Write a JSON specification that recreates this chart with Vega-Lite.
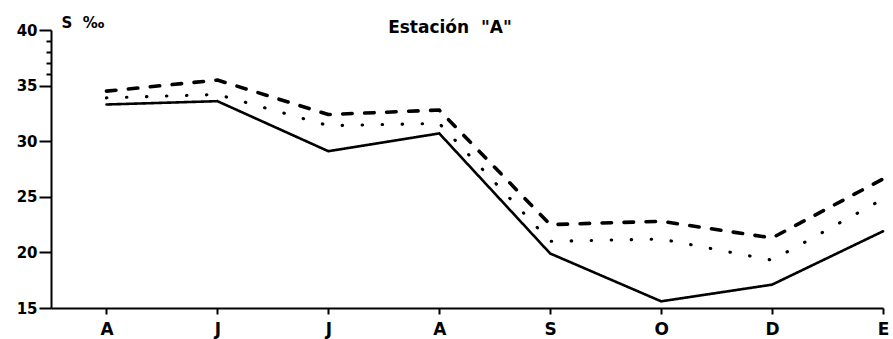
{
  "$schema": "https://vega.github.io/schema/vega-lite/v6.json",
  "autosize": "none",
  "width": 832,
  "height": 278,
  "padding": {"left": 51, "top": 30, "right": 10, "bottom": 31},
  "background": "white",
  "title": {
    "text": "Estación\u00a0\u00a0\"A\"",
    "font": "DejaVu Sans",
    "fontWeight": "bold",
    "fontSize": 17,
    "color": "black",
    "anchor": "middle",
    "dx": -17,
    "dy": 18,
    "offset": -4
  },
  "config": {
    "view": {"stroke": null},
    "axis": {
      "grid": false,
      "domainColor": "black",
      "domainWidth": 2,
      "tickColor": "black",
      "tickWidth": 2,
      "labelColor": "black",
      "labelFont": "DejaVu Sans",
      "labelFontWeight": "bold"
    }
  },
  "data": {
    "values": [
      {"mes": 1, "serie": "continua", "salinidad": 33.3},
      {"mes": 2, "serie": "continua", "salinidad": 33.6},
      {"mes": 3, "serie": "continua", "salinidad": 29.1},
      {"mes": 4, "serie": "continua", "salinidad": 30.7},
      {"mes": 5, "serie": "continua", "salinidad": 19.9},
      {"mes": 6, "serie": "continua", "salinidad": 15.6},
      {"mes": 7, "serie": "continua", "salinidad": 17.1},
      {"mes": 8, "serie": "continua", "salinidad": 21.9},
      {"mes": 1, "serie": "puntos", "salinidad": 33.9},
      {"mes": 2, "serie": "puntos", "salinidad": 34.2},
      {"mes": 3, "serie": "puntos", "salinidad": 31.4},
      {"mes": 4, "serie": "puntos", "salinidad": 31.6},
      {"mes": 5, "serie": "puntos", "salinidad": 21.0},
      {"mes": 6, "serie": "puntos", "salinidad": 21.2},
      {"mes": 7, "serie": "puntos", "salinidad": 19.3},
      {"mes": 8, "serie": "puntos", "salinidad": 24.8},
      {"mes": 1, "serie": "trazos", "salinidad": 34.5},
      {"mes": 2, "serie": "trazos", "salinidad": 35.5},
      {"mes": 3, "serie": "trazos", "salinidad": 32.4},
      {"mes": 4, "serie": "trazos", "salinidad": 32.8},
      {"mes": 5, "serie": "trazos", "salinidad": 22.5},
      {"mes": 6, "serie": "trazos", "salinidad": 22.8},
      {"mes": 7, "serie": "trazos", "salinidad": 21.3},
      {"mes": 8, "serie": "trazos", "salinidad": 26.6}
    ]
  },
  "mark": {"type": "line", "color": "black", "strokeCap": "round", "strokeJoin": "round"},
  "encoding": {
    "x": {
      "field": "mes",
      "type": "quantitative",
      "scale": {"domain": [0.5, 8], "nice": false, "zero": false},
      "axis": {
        "title": null,
        "values": [1, 2, 3, 4, 5, 6, 7, 8],
        "labelExpr": "['A','J','J','A','S','O','D','E'][datum.value - 1]",
        "labelFontSize": 17,
        "labelPadding": 7,
        "tickSize": 6,
        "labelFlush": false,
        "labelOverlap": false
      }
    },
    "y": {
      "field": "salinidad",
      "type": "quantitative",
      "scale": {"domain": [15, 40], "nice": false, "zero": false},
      "axis": {
        "title": "S\u00a0\u00a0‰",
        "titleAngle": 0,
        "titleX": 10,
        "titleY": -3,
        "titleAlign": "left",
        "titleBaseline": "alphabetic",
        "titleFont": "DejaVu Sans",
        "titleFontWeight": "bold",
        "titleFontSize": 15,
        "titleColor": "black",
        "values": [15, 20, 25, 30, 35, 36, 37, 38, 39, 40],
        "labelExpr": "datum.value % 5 === 0 ? datum.label : ''",
        "labelFontSize": 15,
        "labelPadding": 2,
        "tickSize": {"condition": {"test": "datum.value % 5 === 0", "value": 12}, "value": 5},
        "labelFlush": false,
        "labelOverlap": false
      }
    },
    "strokeDash": {
      "field": "serie",
      "type": "nominal",
      "scale": {
        "domain": ["continua", "puntos", "trazos"],
        "range": [[1, 0], [0.5, 19.5], [9.5, 12.5]]
      },
      "legend": null
    },
    "strokeWidth": {
      "field": "serie",
      "type": "nominal",
      "scale": {
        "domain": ["continua", "puntos", "trazos"],
        "range": [2.6, 3.6, 2.6]
      },
      "legend": null
    }
  }
}
